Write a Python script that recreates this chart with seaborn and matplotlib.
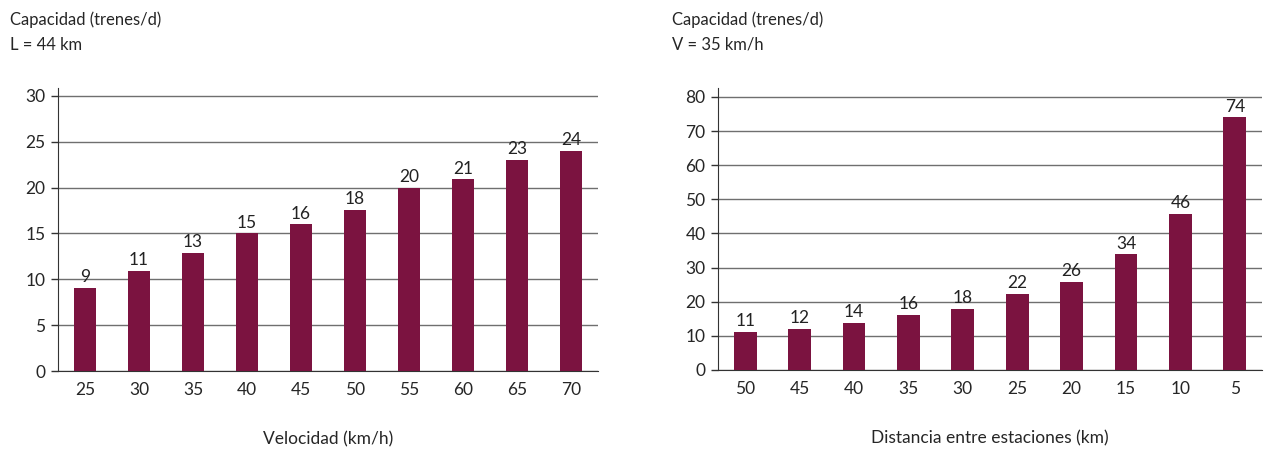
import numpy as np
import pandas as pd
import matplotlib
matplotlib.use("Agg")
import matplotlib.pyplot as plt
import seaborn as sns

# Datos: capacidad según velocidad (L = 44 km)
velocidad = ["25", "30", "35", "40", "45", "50", "55", "60", "65", "70"]
cap_velocidad = [9.1, 10.9, 12.9, 15.0, 16.0, 17.6, 20.0, 20.9, 23.0, 24.0]

# Datos: capacidad según distancia entre estaciones (V = 35 km/h)
distancia = ["50", "45", "40", "35", "30", "25", "20", "15", "10", "5"]
cap_distancia = [11.2, 12.0, 13.8, 16.1, 17.9, 22.3, 25.8, 33.9, 45.8, 74.0]

color_barra = "#7B1340"

sns.set_style("white")
plt.rcParams['font.family'] = ['Lato', 'DejaVu Sans']
plt.rcParams['font.size'] = 12

fig = plt.figure(figsize=(12.7, 4.5), dpi=100)
ax1 = fig.add_axes([58/1270, 1-371/450, (598-58)/1270, (371-88)/450])
ax2 = fig.add_axes([718/1270, 1-370/450, (1262-718)/1270, (370-88)/450])

paneles = [
    (ax1, velocidad, cap_velocidad, 30 * 283 / 275, np.arange(0, 31, 5),
     "L = 44 km", "Velocidad (km/h)", 10),
    (ax2, distancia, cap_distancia, 80 * 282 / 273, np.arange(0, 81, 10),
     "V = 35 km/h", "Distancia entre estaciones (km)", 672),
]

for ax, cats, vals, ytop, yticks, sub, xlab, xtxt in paneles:
    df = pd.DataFrame({"cat": cats, "val": vals})
    sns.barplot(data=df, x="cat", y="val", order=cats, color=color_barra,
                width=0.42, saturation=1, linewidth=0, ax=ax, zorder=3)
    for c in ax.containers:
        ax.bar_label(c, labels=[f"{v:.0f}" for v in vals], padding=2,
                     fontsize=12.5, color="#222222")
    ax.set_xlim(-0.5, len(cats) - 0.5)
    ax.set_ylim(0, ytop)
    ax.set_yticks(yticks)
    ax.yaxis.grid(True, color="#6f6f6f", linewidth=1.0, zorder=0)
    ax.set_axisbelow(True)
    for s in ["top", "right"]:
        ax.spines[s].set_visible(False)
    ax.spines["left"].set_color("#333333")
    ax.spines["bottom"].set_color("#333333")
    ax.set_xticks(np.arange(-0.5, len(cats), 1), minor=True)
    ax.tick_params(axis="x", which="major", length=0, pad=8, labelsize=12.5)
    ax.tick_params(axis="x", which="minor", length=7, width=1, color="#333333", direction="out")
    ax.tick_params(axis="y", which="major", length=5, width=1, color="#333333", left=True,
                   labelsize=12.5, pad=4)
    ax.set_ylabel("")
    ax.set_xlabel(xlab, fontsize=12.5, labelpad=24)
    fig.text(xtxt / 1270, 1 - 20 / 450, "Capacidad (trenes/d)", fontsize=12, va="center")
    fig.text(xtxt / 1270, 1 - 45 / 450, sub, fontsize=12, va="center")

fig.savefig("out.png", dpi=100)
